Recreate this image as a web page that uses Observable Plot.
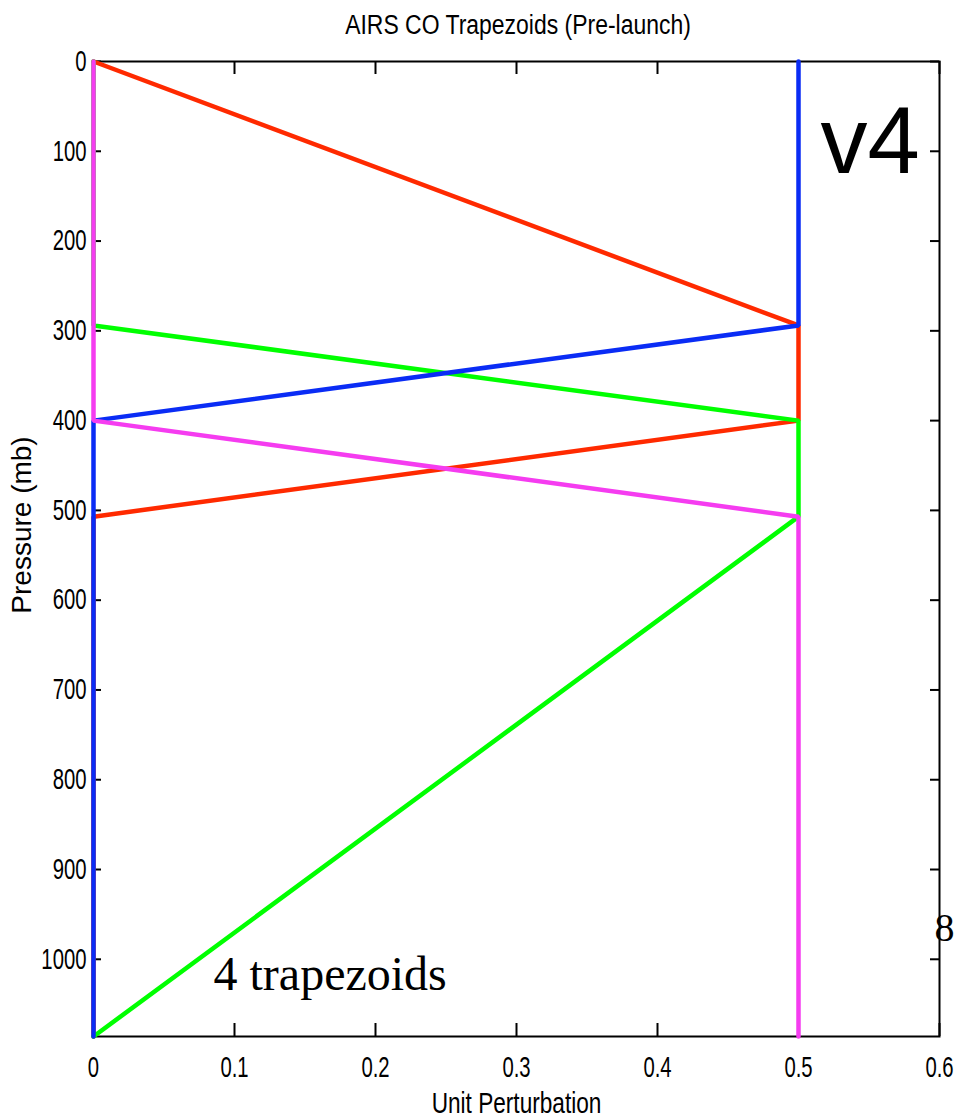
<!DOCTYPE html>
<html>
<head>
<meta charset="utf-8">
<script src="https://cdn.jsdelivr.net/npm/d3@7"></script>
<script src="https://cdn.jsdelivr.net/npm/@observablehq/plot@0.6"></script>
<style>
  html, body { margin: 0; padding: 0; background: #fff; }
  #wrap { position: relative; width: 955px; height: 1118px; overflow: hidden; }
  #title {
    position: absolute; top: 0; left: 518px;
    transform: translateX(-50%) scaleX(0.85);
    height: 50px; line-height: 50px; white-space: nowrap;
    font-family: "Liberation Sans", Arial, sans-serif;
    font-size: 27px; color: #000;
  }
  #chart { position: absolute; top: 50px; left: 0; }
</style>
</head>
<body>
<div id="wrap">
  <div id="title">AIRS CO Trapezoids (Pre-launch)</div>
  <div id="chart"></div>
</div>
<script>
// Trapezoid perturbation profiles: pressure hinge points (mb) and unit perturbation at each
const redPressure = [0, 294, 400, 507, 1086];
const redValue    = [0, 0.5, 0.5, 0, 0];
const greenPressure = [0, 294, 400, 507, 1086];
const greenValue    = [0, 0, 0.5, 0.5, 0];
const bluePressure = [0, 294, 400, 1086];
const blueValue    = [0.5, 0.5, 0, 0];
const magentaPressure = [0, 400, 507, 1086];
const magentaValue    = [0, 0, 0.5, 0.5];

// Axis ticks and their labels
const xTicks = [0, 0.1, 0.2, 0.3, 0.4, 0.5, 0.6];
const xTickLabels = ["0", "0.1", "0.2", "0.3", "0.4", "0.5", "0.6"];
const yTicks = [0, 100, 200, 300, 400, 500, 600, 700, 800, 900, 1000];
const yTickLabels = ["0", "100", "200", "300", "400", "500", "600", "700", "800", "900", "1000"];

const seriesColors = {red: "#ff2a00", green: "#00ff00", blue: "#0a2cf5", magenta: "#f53cf0"};

const toRows = (name, ps, vs) => ps.map((p, i) => ({series: name, pressure: p, value: vs[i]}));
const series = [
  toRows("red", redPressure, redValue),
  toRows("green", greenPressure, greenValue),
  toRows("blue", bluePressure, blueValue),
  toRows("magenta", magentaPressure, magentaValue)
];

const W = 955, H = 1068;
const mTop = 11, mRight = 16, mBottom = 82, mLeft = 93;
const frameW = W - mLeft - mRight;
const frameH = H - mTop - mBottom;

const xLabelOf = new Map(xTicks.map((t, i) => [t, xTickLabels[i]]));
const yLabelOf = new Map(yTicks.map((t, i) => [t, yTickLabels[i]]));

const sans = "Liberation Sans, Arial, sans-serif";
const serif = "Liberation Serif, Times New Roman, serif";
const xTitle = "Unit Perturbation";
const yTitle = "Pressure (mb)";

const chart = Plot.plot({
  width: W,
  height: H,
  marginTop: mTop,
  marginRight: mRight,
  marginBottom: mBottom,
  marginLeft: mLeft,
  style: {background: "#fff", color: "#000", fontFamily: sans, fontSize: "28px", overflow: "visible"},
  x: {domain: [0, 0.6], axis: null},
  y: {domain: [0, 1086], reverse: true, axis: null},
  marks: [
    // box frame
    Plot.frame({stroke: "#000", strokeWidth: 2}),
    // inward ticks on all four sides
    Plot.ruleY(yTicks, {stroke: "#000", strokeWidth: 2, insetRight: frameW - 8}),
    Plot.ruleY(yTicks, {stroke: "#000", strokeWidth: 2, insetLeft: frameW - 9}),
    Plot.ruleX(xTicks, {stroke: "#000", strokeWidth: 2, insetBottom: frameH - 13}),
    Plot.ruleX(xTicks, {stroke: "#000", strokeWidth: 2, insetTop: frameH - 13}),
    // tick labels
    Plot.axisX({ticks: xTicks, tickSize: 0, tickPadding: 20, tickFormat: d => xLabelOf.get(d),
      label: null, fontSize: 29, fontFamily: sans}),
    Plot.axisY({ticks: yTicks, tickSize: 0, tickPadding: 7, tickFormat: d => yLabelOf.get(d),
      label: null, fontSize: 29, fontFamily: sans}),
    // profiles
    ...series.map(rows => Plot.line(rows, {
      x: "value", y: "pressure",
      stroke: seriesColors[rows[0].series], strokeWidth: 4.5, strokeLinejoin: "miter"
    })),
    // axis titles
    Plot.text([xTitle], {frameAnchor: "bottom", textAnchor: "middle", lineAnchor: "bottom",
      dy: 76, fontSize: 29, fontFamily: sans}),
    Plot.text([yTitle], {frameAnchor: "left", textAnchor: "middle", lineAnchor: "middle",
      rotate: -90, dx: -71, dy: -24, fontSize: 28, fontFamily: sans}),
    // annotations
    Plot.text(["v4"], {frameAnchor: "top-right", textAnchor: "start", lineAnchor: "bottom",
      dx: -119, dy: 111, fontSize: 94, fontFamily: sans}),
    Plot.text(["4 trapezoids"], {frameAnchor: "bottom-left", textAnchor: "start", lineAnchor: "bottom",
      dx: 120, dy: -47, fontSize: 48, fontFamily: serif}),
    Plot.text(["8"], {frameAnchor: "bottom-right", textAnchor: "start", lineAnchor: "bottom",
      dx: -5, dy: -96, fontSize: 40, fontFamily: serif})
  ]
});

// Condensed lettering for the tick labels and the x-axis title
function condense(texts, sx) {
  texts.forEach(t => {
    const tr = t.getAttribute("transform");
    if (tr) {
      t.setAttribute("transform", `${tr} scale(${sx},1)`);
    } else {
      const x = +(t.getAttribute("x") || 0), y = +(t.getAttribute("y") || 0);
      t.setAttribute("transform", `translate(${x},${y}) scale(${sx},1) translate(${-x},${-y})`);
    }
  });
}
condense(chart.querySelectorAll('g[aria-label="x-axis tick label"] text'), 0.7);
condense(chart.querySelectorAll('g[aria-label="y-axis tick label"] text'), 0.7);
condense([...chart.querySelectorAll("text")].filter(t => t.textContent === xTitle), 0.78);

document.getElementById("chart").appendChild(chart);
</script>
</body>
</html>
